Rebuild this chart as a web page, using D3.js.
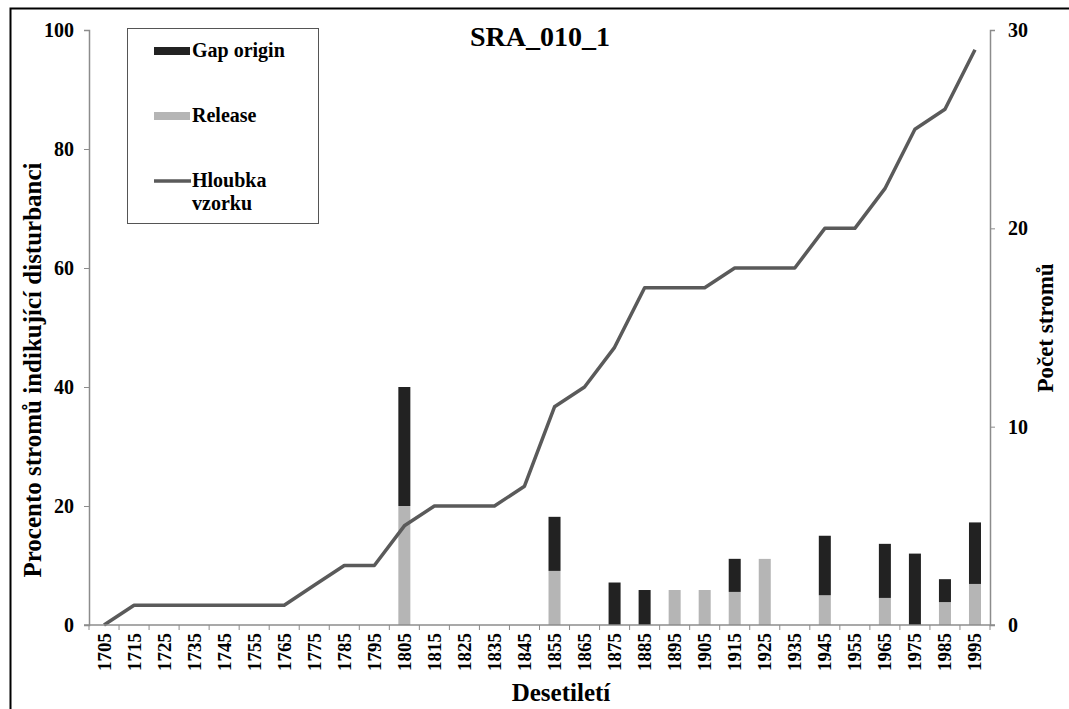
<!DOCTYPE html>
<html>
<head>
<meta charset="utf-8">
<script src="https://cdn.jsdelivr.net/npm/d3@7"></script>
<style>
  body { margin: 0; background: #fff; }
  text { font-family: "Liberation Serif", "Times New Roman", serif; font-weight: bold; fill: #000; }
</style>
</head>
<body>
<div id="chart"></div>
<script>
// Decades (x categories)
const decades = d3.range(1705, 2000, 10).map(String);

// Percent of trees indicating disturbance
const release = [0, 0, 0, 0, 0, 0, 0, 0, 0, 0, 20, 0, 0, 0, 0, 9.09, 0, 0, 0, 5.88, 5.88, 5.56, 11.11, 0, 5, 0, 4.55, 0, 3.85, 6.9];
const gapOrigin = [0, 0, 0, 0, 0, 0, 0, 0, 0, 0, 20, 0, 0, 0, 0, 9.09, 0, 7.14, 5.88, 0, 0, 5.56, 0, 0, 10, 0, 9.09, 12, 3.85, 10.34];

// Sample depth (number of trees)
const sampleDepth = [0, 1, 1, 1, 1, 1, 1, 2, 3, 3, 5, 6, 6, 6, 7, 11, 12, 14, 17, 17, 17, 18, 18, 18, 20, 20, 22, 25, 26, 29];

const leftTicks = [0, 20, 40, 60, 80, 100];
const rightTicks = [0, 10, 20, 30];

function drawChart() {
  const width = 1069;
  const height = 709;
  const margin = { top: 30, right: 79, bottom: 84, left: 89 };

  const svg = d3.select("#chart")
    .append("svg")
    .attr("width", width)
    .attr("height", height);

  // outer frame (only left and top edges are visible)
  svg.append("rect")
    .attr("x", 10.5).attr("y", 8.5)
    .attr("width", 1200).attr("height", 900)
    .attr("fill", "none").attr("stroke", "#000").attr("stroke-width", 2);

  const x = d3.scaleBand()
    .domain(decades)
    .range([margin.left, width - margin.right])
    .paddingInner(0.6)
    .paddingOuter(0.3);

  const yLeft = d3.scaleLinear().domain([0, 100]).range([height - margin.bottom, margin.top]);
  const yRight = d3.scaleLinear().domain([0, 30]).range([height - margin.bottom, margin.top]);

  const axisColor = "#8c8c8c";

  // stacked bars: release at bottom, gap origin above
  const rows = decades.map((d, i) => ({ decade: d, release: release[i], gap: gapOrigin[i] }));
  const stack = d3.stack().keys(["release", "gap"])(rows);
  const colors = { release: "#b5b5b5", gap: "#222222" };

  svg.append("g")
    .selectAll("g")
    .data(stack)
    .join("g")
    .attr("fill", (s) => colors[s.key])
    .selectAll("rect")
    .data((s) => s.filter((p) => p[1] - p[0] > 0))
    .join("rect")
    .attr("x", (p) => x(p.data.decade))
    .attr("width", x.bandwidth())
    .attr("y", (p) => yLeft(p[1]))
    .attr("height", (p) => yLeft(p[0]) - yLeft(p[1]));

  // sample depth line
  const line = d3.line()
    .x((d, i) => x(decades[i]) + x.bandwidth() / 2)
    .y((d) => yRight(d));

  svg.append("path")
    .datum(sampleDepth)
    .attr("fill", "none")
    .attr("stroke", "#5a5a5a")
    .attr("stroke-width", 3.5)
    .attr("stroke-linejoin", "round")
    .attr("d", line);

  // left axis
  const gLeft = svg.append("g")
    .attr("transform", `translate(${margin.left},0)`)
    .call(d3.axisLeft(yLeft).tickValues(leftTicks).tickSize(5).tickPadding(10));
  gLeft.selectAll("text").style("font-size", "20px");

  // right axis
  const gRight = svg.append("g")
    .attr("transform", `translate(${width - margin.right},0)`)
    .call(d3.axisRight(yRight).tickValues(rightTicks).tickSize(5).tickPadding(13));
  gRight.selectAll("text").style("font-size", "20px");

  // x axis: ticks between categories
  const bounds = d3.range(decades.length + 1).map((i) => margin.left + i * (width - margin.left - margin.right) / decades.length);
  const gX = svg.append("g").attr("transform", `translate(0,${height - margin.bottom})`);
  gX.append("line")
    .attr("x1", margin.left - 5).attr("x2", width - margin.right + 5)
    .attr("stroke", axisColor).attr("stroke-width", 1.5);
  gX.selectAll(".tk")
    .data(bounds)
    .join("line")
    .attr("class", "tk")
    .attr("x1", (d) => d).attr("x2", (d) => d)
    .attr("y1", 0).attr("y2", 5)
    .attr("stroke", axisColor);
  gX.selectAll(".lbl")
    .data(decades)
    .join("text")
    .attr("class", "lbl")
    .attr("transform", (d) => `translate(${x(d) + x.bandwidth() / 2 + 6.5},8) rotate(-90)`)
    .attr("text-anchor", "end")
    .style("font-size", "19px")
    .text((d) => d);

  [gLeft, gRight].forEach((g) => {
    g.select(".domain").attr("stroke", axisColor).attr("stroke-width", 1.5);
    g.selectAll(".tick line").attr("stroke", axisColor);
  });

  // titles
  svg.append("text")
    .attr("x", 540).attr("y", 46)
    .attr("text-anchor", "middle")
    .style("font-size", "28px")
    .text("SRA_010_1");

  svg.append("text")
    .attr("x", 561).attr("y", 701)
    .attr("text-anchor", "middle")
    .style("font-size", "25px")
    .text("Desetiletí");

  svg.append("text")
    .attr("transform", "translate(41,370) rotate(-90)")
    .attr("text-anchor", "middle")
    .style("font-size", "25px")
    .text("Procento stromů indikující disturbanci");

  svg.append("text")
    .attr("transform", "translate(1053,328) rotate(-90)")
    .attr("text-anchor", "middle")
    .style("font-size", "23px")
    .text("Počet stromů");

  // legend
  const legend = svg.append("g");
  legend.append("rect")
    .attr("x", 127.5).attr("y", 28.5)
    .attr("width", 191).attr("height", 195)
    .attr("fill", "#fff").attr("stroke", "#555");

  const items = [
    { label: ["Gap origin"], type: "bar", color: colors.gap, y: 51 },
    { label: ["Release"], type: "bar", color: colors.release, y: 116 },
    { label: ["Hloubka", "vzorku"], type: "line", color: "#5a5a5a", y: 181 }
  ];
  items.forEach((it) => {
    if (it.type === "bar") {
      legend.append("rect")
        .attr("x", 154).attr("y", it.y - 4)
        .attr("width", 36).attr("height", 8)
        .attr("fill", it.color);
    } else {
      legend.append("line")
        .attr("x1", 154).attr("x2", 191)
        .attr("y1", it.y).attr("y2", it.y)
        .attr("stroke", it.color).attr("stroke-width", 3.5);
    }
    it.label.forEach((t, j) => {
      legend.append("text")
        .attr("x", 192).attr("y", it.y + 6 + j * 23)
        .style("font-size", "20px")
        .text(t);
    });
  });
}

if (document.readyState === "loading") {
  document.addEventListener("DOMContentLoaded", drawChart);
} else {
  drawChart();
}
</script>
</body>
</html>
